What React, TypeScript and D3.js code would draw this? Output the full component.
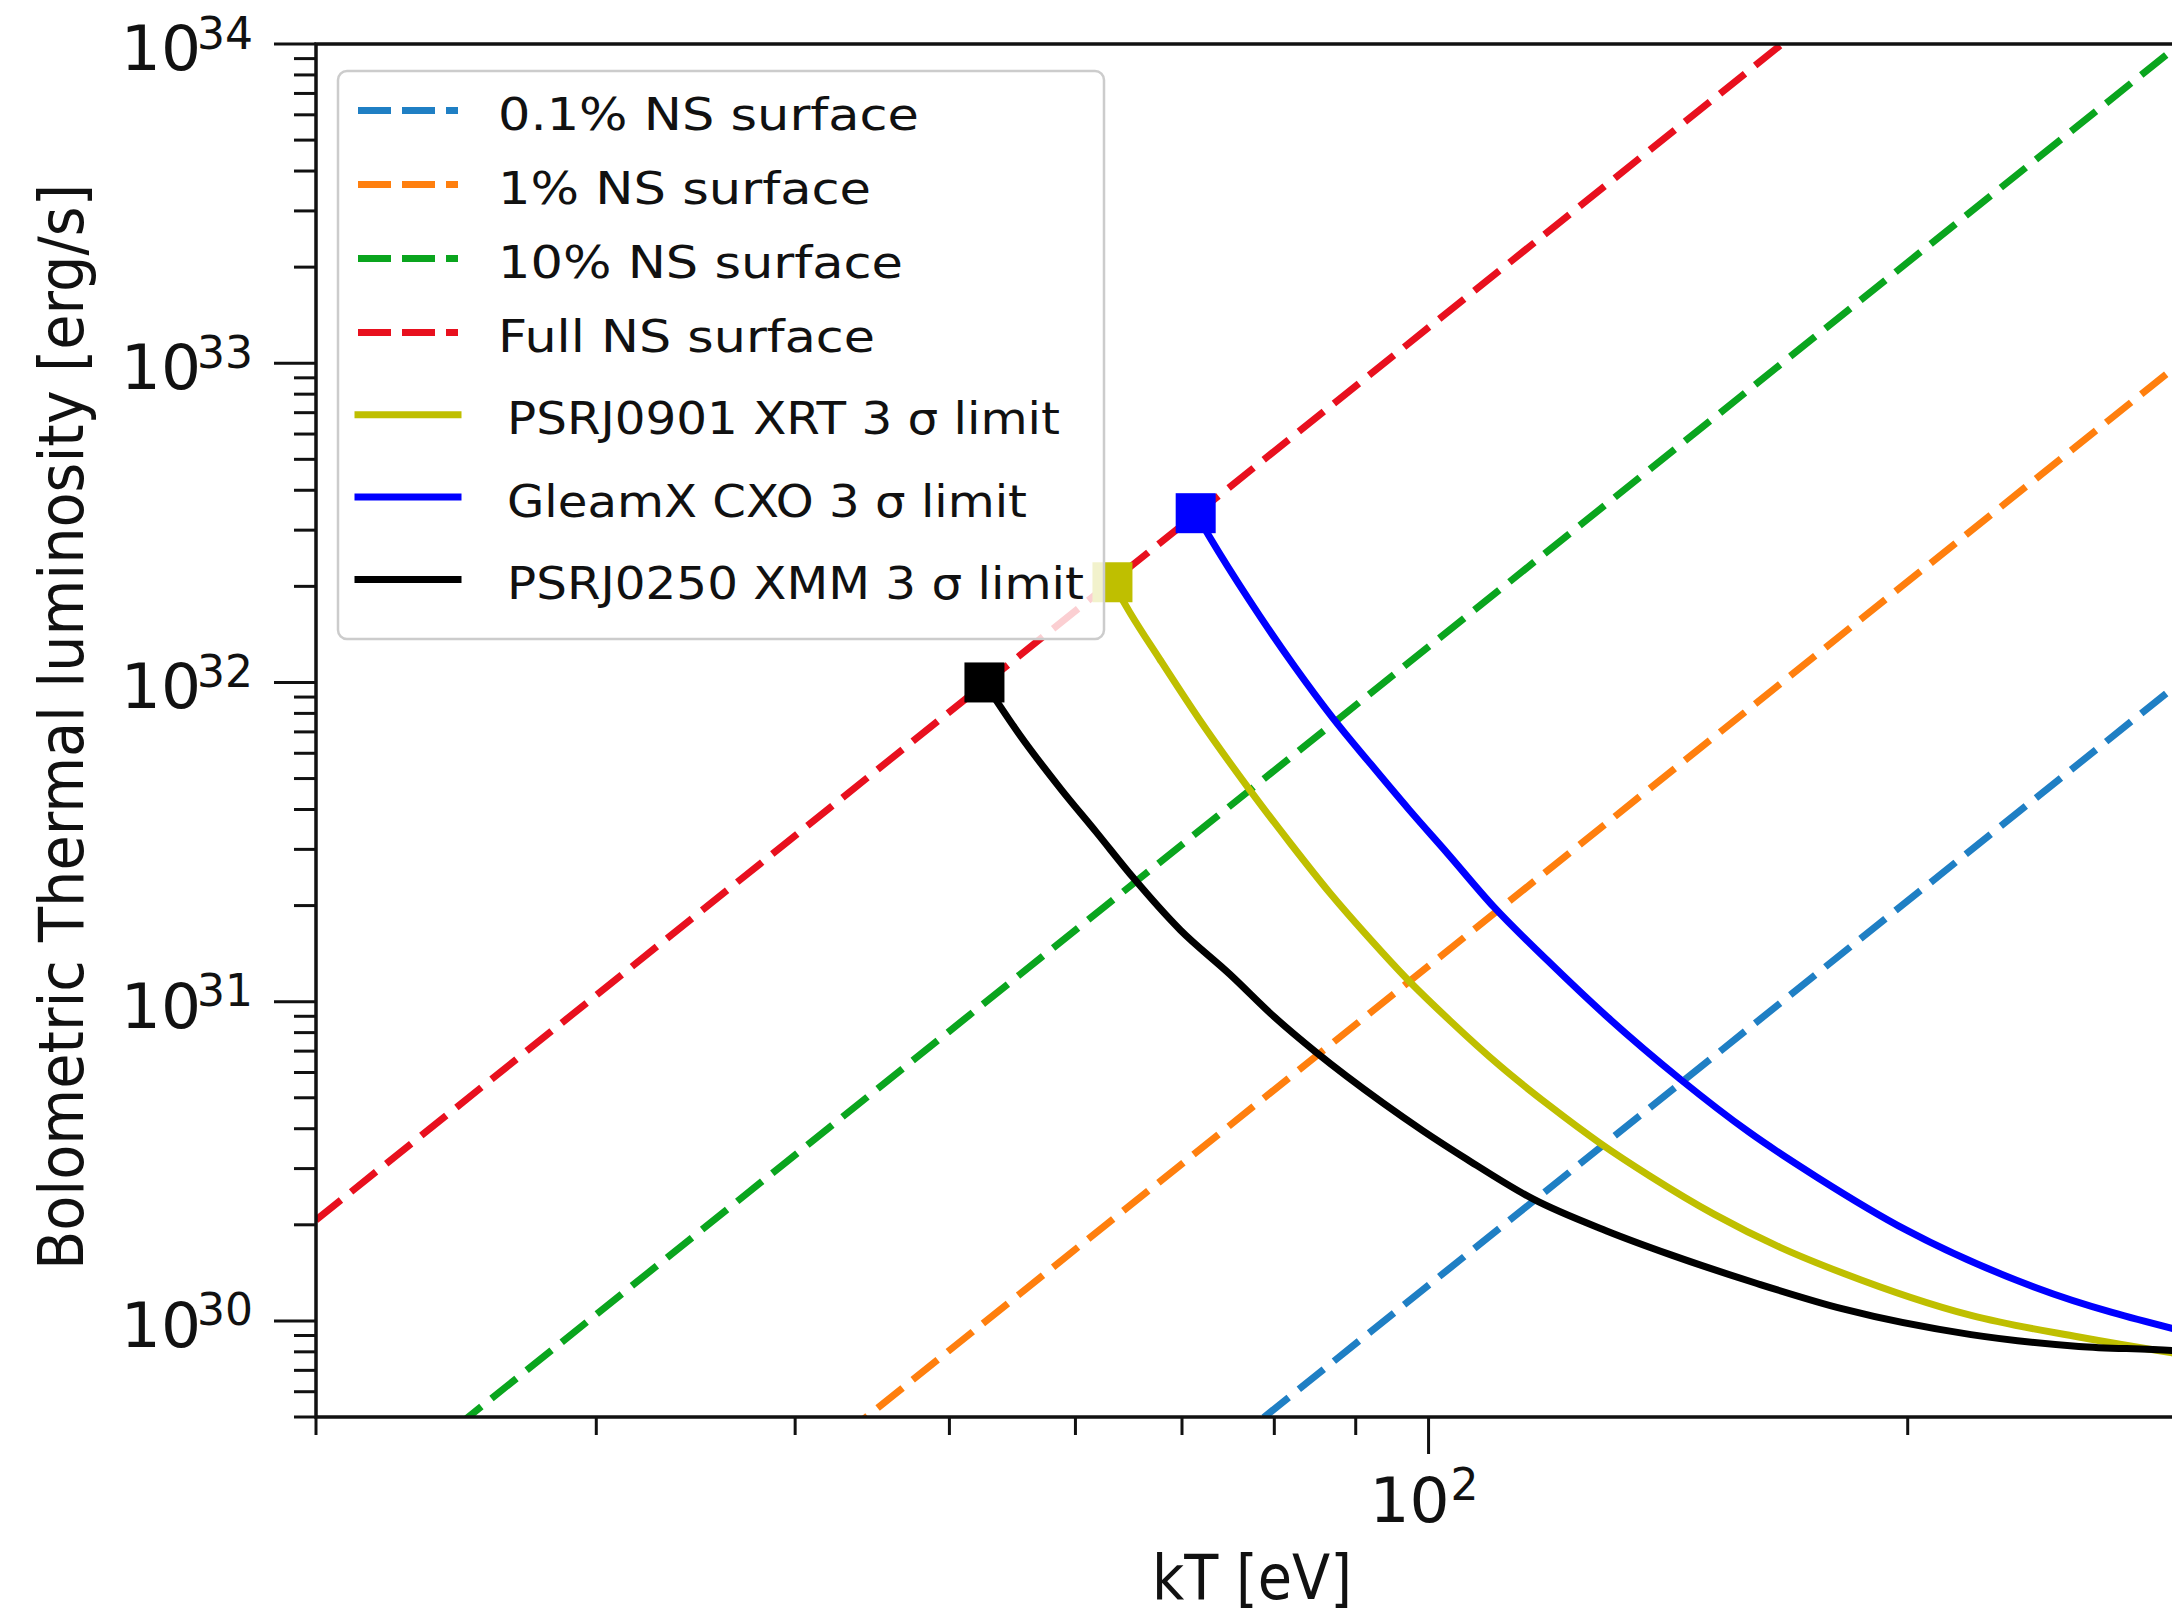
import React from "react";
import * as d3 from "d3";

// ---- data ----
const kTRange = [20, 300]; // eV, ends of the constant-area blackbody lines
const fullSurface = [2.07e30, 1.048e35];
const tenPctSurface = [2.07e29, 1.048e34];
const onePctSurface = [2.07e28, 1.048e33];
const tenthPctSurface = [2.07e27, 1.048e32];

const psrJ0901_kT = [63.3, 64.9, 67.8, 71.8, 77.1, 81.9, 86.7, 91.9, 96.9, 103.2, 110.9, 119.2, 128.2, 137.8, 151.1, 166.3, 182.2, 219.2, 256.2, 293.2, 300];
const psrJ0901_L = [2.06e32, 1.66e32, 1.18e32, 7.64e31, 4.65e31, 3.13e31, 2.19e31, 1.57e31, 1.18e31, 8.7e30, 6.29e30, 4.71e30, 3.6e30, 2.84e30, 2.16e30, 1.7e30, 1.41e30, 1.04e30, 8.9e29, 7.94e29, 7.8e29];

const gleamX_kT = [71.4, 72.9, 77.1, 82.4, 87.1, 92.0, 97.2, 102.8, 109.9, 118.7, 129.5, 143.9, 159.0, 175.4, 199.8, 240.8, 300];
const gleamX_L = [3.39e32, 2.84e32, 1.82e32, 1.12e32, 7.72e31, 5.54e31, 4.0e31, 2.91e31, 1.98e31, 1.35e31, 8.96e30, 5.72e30, 3.9e30, 2.82e30, 1.92e30, 1.27e30, 9.2e29];

const psrJ0250_kT = [52.6, 55.4, 58.8, 61.8, 65.3, 69.8, 75.0, 80.1, 84.9, 93.6, 99.2, 105.7, 116.3, 129.5, 142.0, 160.8, 182.1, 219.2, 256.2, 293.2, 300];
const psrJ0250_L = [1.0e32, 6.81e31, 4.61e31, 3.41e31, 2.43e31, 1.68e31, 1.22e31, 8.91e30, 6.97e30, 4.82e30, 3.94e30, 3.21e30, 2.41e30, 1.91e30, 1.61e30, 1.31e30, 1.09e30, 9.06e29, 8.32e29, 8.07e29, 8.0e29];

const yTickExponents = [30, 31, 32, 33, 34];
const xTickExponents = [2];

const legendLabels = [
  "0.1% NS surface",
  "1% NS surface",
  "10% NS surface",
  "Full NS surface",
  "PSRJ0901 XRT 3 σ limit",
  "GleamX CXO 3 σ limit",
  "PSRJ0250 XMM 3 σ limit",
];

// ---- styling / layout ----
const W = 2172;
const H = 1616;
const P = { left: 316, top: 44, right: 2188, bottom: 1417 };
const FONT = "'DejaVu Sans', 'Liberation Sans', sans-serif";
const C = {
  tenth: "#1f7fc4",
  one: "#ff7f0e",
  ten: "#0aa51e",
  full: "#e8101e",
  yellow: "#bfbf00",
  blue: "#0000ff",
  black: "#000000",
};
const LW = 7;
const DASH = "32 13";

export default function App() {
  const x = d3.scaleLog().domain([20, 300]).range([P.left, P.right]);
  const y = d3.scaleLog().domain([5e29, 1e34]).range([P.bottom, P.top]);

  const line = d3
    .line<[number, number]>()
    .x((d) => x(d[0]))
    .y((d) => y(d[1]));
  const smooth = d3
    .line<[number, number]>()
    .x((d) => x(d[0]))
    .y((d) => y(d[1]))
    .curve(d3.curveMonotoneX);

  const zip = (a: number[], b: number[]) => a.map((v, i) => [v, b[i]] as [number, number]);

  const dashed = [
    { vals: tenthPctSurface, color: C.tenth },
    { vals: onePctSurface, color: C.one },
    { vals: tenPctSurface, color: C.ten },
    { vals: fullSurface, color: C.full },
  ];
  const solids = [
    { kT: psrJ0901_kT, L: psrJ0901_L, color: C.yellow },
    { kT: gleamX_kT, L: gleamX_L, color: C.blue },
    { kT: psrJ0250_kT, L: psrJ0250_L, color: C.black },
  ];

  // ticks
  const yMinor: number[] = [];
  for (let e = 29; e <= 33; e++) for (let m = 2; m <= 9; m++) {
    const v = m * Math.pow(10, e);
    if (v >= 5e29 - 1e20 && v <= 1e34) yMinor.push(v);
  }
  const xMinor: number[] = [];
  for (let e = 1; e <= 2; e++) for (let m = 2; m <= 9; m++) {
    const v = m * Math.pow(10, e);
    if (v >= 20 && v <= 300) xMinor.push(v);
  }

  const legendColors = [C.tenth, C.one, C.ten, C.full, C.yellow, C.blue, C.black];
  const legendDashed = [true, true, true, true, false, false, false];
  const legendTextLen = [421, 373, 405, 377, 553, 520, 577];
  const rowBase = (i: number) => (i < 4 ? 130 + i * 74 : 352 + (i - 3) * 82.3);

  return (
    <svg
      width={W}
      height={H}
      style={{ position: "absolute", left: 0, top: 0, background: "#fff" }}
      fontFamily={FONT}
    >
      <rect x={0} y={0} width={W} height={H} fill="#fff" />
      <defs>
        <clipPath id="plotclip">
          <rect x={P.left} y={P.top} width={P.right - P.left} height={P.bottom - P.top} />
        </clipPath>
      </defs>

      <g clipPath="url(#plotclip)">
        {dashed.map((d, i) => (
          <path
            key={"d" + i}
            d={line(zip(kTRange, d.vals)) || ""}
            fill="none"
            stroke={d.color}
            strokeWidth={LW}
            strokeDasharray={DASH}
          />
        ))}
        {solids.map((s, i) => (
          <path
            key={"s" + i}
            d={smooth(zip(s.kT, s.L)) || ""}
            fill="none"
            stroke={s.color}
            strokeWidth={LW}
            strokeLinejoin="round"
          />
        ))}
        {solids.map((s, i) => (
          <rect
            key={"m" + i}
            x={x(s.kT[0]) - 20}
            y={y(s.L[0]) - 20}
            width={40}
            height={40}
            fill={s.color}
          />
        ))}
      </g>

      {/* spines */}
      <rect
        x={P.left}
        y={P.top}
        width={P.right - P.left}
        height={P.bottom - P.top}
        fill="none"
        stroke="#111"
        strokeWidth={3.5}
      />

      {/* y ticks */}
      {yMinor.map((v, i) => (
        <line key={"ym" + i} x1={P.left - 22} x2={P.left} y1={y(v)} y2={y(v)} stroke="#111" strokeWidth={3} />
      ))}
      {yTickExponents.map((e) => {
        const ty = y(Math.pow(10, e));
        return (
          <g key={"yt" + e}>
            <line x1={P.left - 42} x2={P.left} y1={ty} y2={ty} stroke="#111" strokeWidth={3} />
            <text x={201} y={ty + 26} fontSize={63} textAnchor="end" fill="#111">10</text>
            <text x={197} y={ty + 4.5} fontSize={44} textAnchor="start" fill="#111">{e}</text>
          </g>
        );
      })}

      {/* x ticks */}
      {xMinor.map((v, i) => (
        <line key={"xm" + i} x1={x(v)} x2={x(v)} y1={P.bottom} y2={P.bottom + 18} stroke="#111" strokeWidth={3} />
      ))}
      {xTickExponents.map((e) => {
        const tx = x(Math.pow(10, e));
        return (
          <g key={"xt" + e}>
            <line x1={tx} x2={tx} y1={P.bottom} y2={P.bottom + 37} stroke="#111" strokeWidth={3} />
            <text x={tx + 21} y={1522} fontSize={63} textAnchor="end" fill="#111">10</text>
            <text x={tx + 22} y={1500} fontSize={44} textAnchor="start" fill="#111">{e}</text>
          </g>
        );
      })}

      {/* axis labels */}
      <text
        x={1252}
        y={1599}
        fontSize={62}
        textAnchor="middle"
        fill="#111"
        textLength={200}
        lengthAdjust="spacingAndGlyphs"
      >
        kT [eV]
      </text>
      <text
        transform="translate(83,727) rotate(-90)"
        fontSize={63}
        textAnchor="middle"
        fill="#111"
        textLength={1086}
        lengthAdjust="spacingAndGlyphs"
      >
        Bolometric Thermal luminosity [erg/s]
      </text>

      {/* legend */}
      <rect
        x={338}
        y={71}
        width={766}
        height={568}
        rx={9}
        ry={9}
        fill="#fff"
        fillOpacity={0.8}
        stroke="#cccccc"
        strokeWidth={2.5}
      />
      {legendLabels.map((lab, i) => {
        const b = rowBase(i);
        const hy = b - 19.5;
        return (
          <g key={"lg" + i}>
            {legendDashed[i] ? (
              <line x1={358} x2={458} y1={hy} y2={hy} stroke={legendColors[i]} strokeWidth={LW} strokeDasharray="33 11" />
            ) : (
              <line x1={358} x2={458} y1={hy} y2={hy} stroke={legendColors[i]} strokeWidth={LW} strokeLinecap="square" />
            )}
            <text
              x={legendDashed[i] ? 498 : 507}
              y={b}
              fontSize={45}
              fill="#111"
              textLength={legendTextLen[i]}
              lengthAdjust="spacingAndGlyphs"
            >
              {lab}
            </text>
          </g>
        );
      })}
    </svg>
  );
}
